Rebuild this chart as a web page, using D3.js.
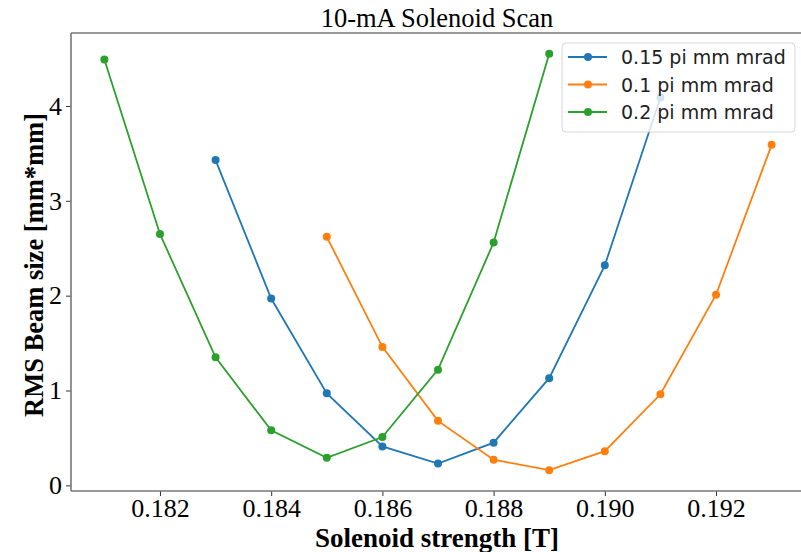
<!DOCTYPE html>
<html>
<head>
<meta charset="utf-8">
<script src="https://cdn.jsdelivr.net/npm/d3@7"></script>
<style>
  body { margin: 0; background: #fff; }
  svg { display: block; }
</style>
</head>
<body>
<div id="chart"></div>
<script>
/* 10-mA Solenoid Scan: RMS beam size vs solenoid strength */

// Solenoid strength steps [T] for each emittance series
const strength015 = [0.183, 0.184, 0.185, 0.186, 0.187, 0.188, 0.189, 0.190, 0.191];
const strength010 = [0.185, 0.186, 0.187, 0.188, 0.189, 0.190, 0.191, 0.192, 0.193];
const strength020 = [0.181, 0.182, 0.183, 0.184, 0.185, 0.186, 0.187, 0.188, 0.189];

// RMS beam size [mm*mm]
const size015 = [3.43, 1.97, 0.97, 0.41, 0.23, 0.45, 1.13, 2.32, 4.09];
const size010 = [2.62, 1.46, 0.68, 0.27, 0.16, 0.36, 0.96, 2.01, 3.59];
const size020 = [4.49, 2.65, 1.35, 0.58, 0.29, 0.51, 1.22, 2.56, 4.55];

const seriesNames = ["0.15 pi mm mrad", "0.1 pi mm mrad", "0.2 pi mm mrad"];
const seriesColors = ["#1f77b4", "#ff7f0e", "#2ca02c"];

const xTicks = [0.182, 0.184, 0.186, 0.188, 0.190, 0.192];
const yTicks = [0, 1, 2, 3, 4];

// build series from the arrays
const series = [
    { name: seriesNames[0], color: seriesColors[0], values: strength015.map((s, i) => ({ x: s, y: size015[i] })) },
    { name: seriesNames[1], color: seriesColors[1], values: strength010.map((s, i) => ({ x: s, y: size010[i] })) },
    { name: seriesNames[2], color: seriesColors[2], values: strength020.map((s, i) => ({ x: s, y: size020[i] })) }
];

const width = 801,
      height = 552,
      margin = ({ top: 33, right: -4, bottom: 61, left: 71 });

const svg = d3.select("#chart")
    .append("svg")
    .attr("width", width)
    .attr("height", height);

// matplotlib style 5% padding on data range
const allPts = series.flatMap(s => s.values);
const [x0, x1] = d3.extent(allPts, d => d.x);
const [y0, y1] = d3.extent(allPts, d => d.y);
const xPad = (x1 - x0) * 0.05, yPad = (y1 - y0) * 0.05;

const x = d3.scaleLinear()
    .domain([x0 - xPad, x1 + xPad])
    .range([margin.left, width - margin.right]);

const y = d3.scaleLinear()
    .domain([y0 - yPad, y1 + yPad])
    .range([height - margin.bottom, margin.top]);

const serif = "'Liberation Serif', 'Times New Roman', serif";
const spineColor = "#777";

// x axis
const xAxis = svg.append("g")
    .attr("transform", `translate(0,${height - margin.bottom})`)
    .call(d3.axisBottom(x).tickValues(xTicks).tickFormat(d3.format(".3f")).tickSize(5).tickPadding(3));

// y axis
const yAxis = svg.append("g")
    .attr("transform", `translate(${margin.left},0)`)
    .call(d3.axisLeft(y).tickValues(yTicks).tickFormat(d3.format("d")).tickSize(5).tickPadding(4));

for (let ax of [xAxis, yAxis]) {
    ax.select(".domain").remove();
    ax.selectAll(".tick line").attr("stroke", "#333").attr("stroke-width", 1);
    ax.selectAll(".tick text")
        .attr("fill", "#000")
        .style("font-family", serif)
        .style("font-size", "26px");
}

// spines (left, bottom, top; right one falls outside the picture)
const frame = svg.append("g")
    .attr("fill", "none")
    .attr("stroke", spineColor)
    .attr("stroke-width", 1.6);
frame.append("line").attr("x1", margin.left).attr("x2", margin.left)
    .attr("y1", margin.top).attr("y2", height - margin.bottom);
frame.append("line").attr("x1", margin.left).attr("x2", width)
    .attr("y1", height - margin.bottom).attr("y2", height - margin.bottom);
frame.append("line").attr("x1", margin.left).attr("x2", width)
    .attr("y1", margin.top).attr("y2", margin.top);

// lines + markers
const line = d3.line()
    .x(d => x(d.x))
    .y(d => y(d.y));

const g = svg.selectAll(".series")
    .data(series)
    .join("g")
    .attr("class", "series");

g.append("path")
    .attr("d", d => line(d.values))
    .attr("fill", "none")
    .attr("stroke", d => d.color)
    .attr("stroke-width", 1.8);

g.selectAll("circle")
    .data(d => d.values.map(v => ({ ...v, color: d.color })))
    .join("circle")
    .attr("cx", d => x(d.x))
    .attr("cy", d => y(d.y))
    .attr("r", 4)
    .attr("fill", d => d.color);

// title
svg.append("text")
    .attr("x", 437)
    .attr("y", 27)
    .attr("text-anchor", "middle")
    .style("font-family", serif)
    .style("font-size", "26.5px")
    .text("10-mA Solenoid Scan");

// axis labels
svg.append("text")
    .attr("x", 437)
    .attr("y", 547)
    .attr("text-anchor", "middle")
    .style("font-family", serif)
    .style("font-weight", "bold")
    .style("font-size", "27px")
    .text("Solenoid strength [T]");

svg.append("text")
    .attr("transform", `translate(43,265) rotate(-90)`)
    .attr("text-anchor", "middle")
    .style("font-family", serif)
    .style("font-weight", "bold")
    .style("font-size", "26.5px")
    .text("RMS Beam size [mm*mm]");

// legend
const legend = svg.append("g").attr("transform", "translate(562,43)");
legend.append("rect")
    .attr("width", 233)
    .attr("height", 89)
    .attr("rx", 4)
    .attr("fill", "#fff")
    .attr("fill-opacity", 0.8)
    .attr("stroke", "#d6d6d6");

const item = legend.selectAll(".item")
    .data(series)
    .join("g")
    .attr("class", "item")
    .attr("transform", (d, i) => `translate(0,${14 + i * 27.5})`);

item.append("line")
    .attr("x1", 6).attr("x2", 45)
    .attr("stroke", d => d.color)
    .attr("stroke-width", 1.8);
item.append("circle")
    .attr("cx", 26)
    .attr("r", 4)
    .attr("fill", d => d.color);
item.append("text")
    .attr("x", 59)
    .attr("y", 7)
    .style("font-family", "'DejaVu Sans', sans-serif")
    .style("font-size", "19px")
    .attr("fill", "#222")
    .text(d => d.name);
</script>
</body>
</html>
